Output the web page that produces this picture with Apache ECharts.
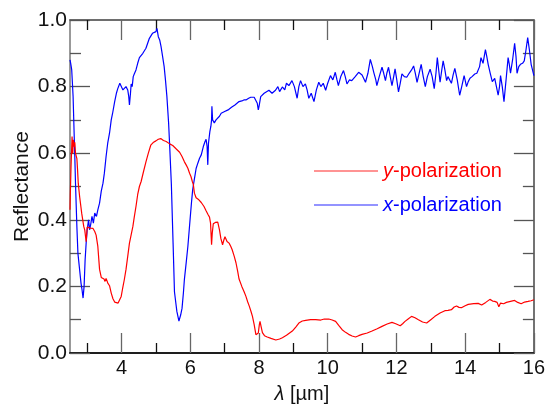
<!DOCTYPE html>
<html><head><meta charset="utf-8">
<script src="https://cdn.jsdelivr.net/npm/echarts@6/dist/echarts.min.js"></script>
<style>html,body{margin:0;padding:0;background:#fff}#c{width:548px;height:409px}</style>
</head><body><div id="c"></div>
<script>
const xMajorTicks = [4, 6, 8, 10, 12, 14, 16];
const xMinorTicks = [3, 5, 7, 9, 11, 13, 15];
const seriesNames = ['y-polarization', 'x-polarization'];
const yPol = [[2.5,0.43],[2.51,0.48],[2.53,0.56],[2.55,0.62],[2.56,0.65],[2.58,0.60],[2.6,0.64],[2.62,0.62],[2.64,0.633],[2.66,0.60],[2.68,0.603],[2.7,0.584],[2.72,0.55],[2.74,0.51],[2.78,0.47],[2.84,0.42],[2.9,0.38],[2.93,0.369],[2.97,0.334],[3.0,0.378],[3.05,0.38],[3.1,0.375],[3.17,0.374],[3.22,0.365],[3.26,0.354],[3.31,0.32],[3.36,0.251],[3.41,0.227],[3.45,0.225],[3.49,0.222],[3.52,0.215],[3.55,0.224],[3.6,0.21],[3.65,0.202],[3.7,0.18],[3.75,0.163],[3.8,0.153],[3.84,0.151],[3.9,0.15],[3.94,0.152],[3.99,0.17],[4.03,0.193],[4.08,0.22],[4.13,0.251],[4.18,0.29],[4.23,0.33],[4.26,0.345],[4.28,0.344],[4.33,0.38],[4.37,0.408],[4.42,0.44],[4.47,0.476],[4.52,0.50],[4.57,0.515],[4.64,0.545],[4.71,0.574],[4.78,0.60],[4.85,0.624],[4.92,0.632],[5.0,0.637],[5.07,0.642],[5.14,0.644],[5.22,0.638],[5.3,0.635],[5.4,0.628],[5.49,0.623],[5.6,0.612],[5.69,0.603],[5.76,0.59],[5.83,0.574],[5.88,0.565],[5.93,0.555],[5.98,0.54],[6.02,0.53],[6.06,0.515],[6.09,0.506],[6.12,0.48],[6.17,0.466],[6.25,0.46],[6.32,0.452],[6.4,0.44],[6.46,0.427],[6.52,0.415],[6.56,0.408],[6.59,0.39],[6.62,0.325],[6.64,0.36],[6.67,0.388],[6.73,0.392],[6.8,0.393],[6.85,0.37],[6.89,0.344],[6.94,0.325],[6.98,0.34],[7.01,0.349],[7.07,0.335],[7.13,0.33],[7.18,0.32],[7.22,0.31],[7.28,0.29],[7.33,0.271],[7.38,0.245],[7.42,0.222],[7.5,0.2],[7.57,0.183],[7.62,0.17],[7.67,0.154],[7.72,0.14],[7.77,0.124],[7.81,0.11],[7.86,0.085],[7.91,0.055],[7.94,0.051],[7.98,0.06],[8.01,0.085],[8.03,0.095],[8.06,0.08],[8.1,0.061],[8.16,0.052],[8.24,0.048],[8.35,0.044],[8.49,0.039],[8.6,0.042],[8.68,0.046],[8.8,0.053],[8.97,0.066],[9.07,0.078],[9.16,0.09],[9.26,0.096],[9.36,0.098],[9.5,0.1],[9.65,0.1],[9.8,0.099],[9.9,0.102],[10.03,0.102],[10.13,0.099],[10.23,0.095],[10.32,0.083],[10.42,0.07],[10.52,0.062],[10.61,0.056],[10.71,0.051],[10.81,0.048],[10.9,0.052],[11.0,0.056],[11.15,0.06],[11.29,0.066],[11.44,0.073],[11.58,0.08],[11.73,0.087],[11.87,0.092],[11.98,0.088],[12.11,0.082],[12.18,0.088],[12.25,0.095],[12.35,0.103],[12.44,0.11],[12.54,0.106],[12.64,0.1],[12.76,0.093],[12.88,0.09],[13.0,0.1],[13.12,0.11],[13.27,0.12],[13.41,0.127],[13.5,0.128],[13.6,0.13],[13.68,0.138],[13.75,0.141],[13.82,0.137],[13.89,0.136],[14.0,0.142],[14.09,0.146],[14.25,0.148],[14.38,0.149],[14.48,0.144],[14.6,0.152],[14.72,0.161],[14.8,0.156],[14.86,0.155],[14.93,0.152],[14.98,0.139],[15.03,0.15],[15.07,0.156],[15.12,0.148],[15.2,0.152],[15.32,0.155],[15.44,0.158],[15.53,0.152],[15.63,0.148],[15.73,0.153],[15.83,0.155],[15.92,0.157],[16.0,0.16]];
const xPol = [[2.5,0.88],[2.52,0.87],[2.55,0.85],[2.59,0.77],[2.62,0.66],[2.64,0.59],[2.66,0.51],[2.7,0.38],[2.73,0.30],[2.76,0.27],[2.78,0.25],[2.82,0.21],[2.85,0.19],[2.88,0.165],[2.91,0.2],[2.94,0.28],[2.97,0.33],[3.0,0.37],[3.04,0.40],[3.07,0.37],[3.1,0.385],[3.14,0.41],[3.18,0.39],[3.22,0.42],[3.27,0.41],[3.31,0.43],[3.36,0.45],[3.41,0.486],[3.46,0.51],[3.5,0.54],[3.55,0.59],[3.6,0.632],[3.65,0.66],[3.7,0.70],[3.74,0.72],[3.8,0.755],[3.85,0.78],[3.89,0.794],[3.95,0.81],[3.99,0.805],[4.04,0.79],[4.08,0.785],[4.13,0.80],[4.18,0.79],[4.21,0.77],[4.23,0.745],[4.26,0.78],[4.28,0.808],[4.31,0.80],[4.34,0.83],[4.37,0.838],[4.42,0.85],[4.47,0.87],[4.52,0.887],[4.57,0.89],[4.62,0.90],[4.66,0.906],[4.71,0.915],[4.76,0.93],[4.81,0.945],[4.86,0.95],[4.9,0.96],[4.95,0.955],[5.0,0.965],[5.03,0.975],[5.07,0.95],[5.11,0.94],[5.15,0.92],[5.2,0.887],[5.24,0.86],[5.28,0.818],[5.32,0.77],[5.37,0.69],[5.4,0.624],[5.45,0.506],[5.5,0.33],[5.54,0.184],[5.58,0.15],[5.61,0.125],[5.67,0.096],[5.72,0.114],[5.76,0.134],[5.8,0.18],[5.83,0.222],[5.88,0.27],[5.93,0.32],[5.97,0.37],[6.0,0.408],[6.04,0.457],[6.07,0.49],[6.1,0.51],[6.14,0.535],[6.17,0.554],[6.22,0.57],[6.27,0.585],[6.32,0.595],[6.38,0.62],[6.43,0.635],[6.46,0.642],[6.49,0.62],[6.51,0.565],[6.53,0.63],[6.57,0.665],[6.6,0.681],[6.62,0.70],[6.63,0.741],[6.65,0.70],[6.7,0.691],[6.75,0.70],[6.8,0.705],[6.85,0.711],[6.9,0.72],[6.95,0.715],[7.0,0.725],[7.04,0.726],[7.1,0.73],[7.15,0.735],[7.2,0.738],[7.23,0.74],[7.3,0.745],[7.36,0.75],[7.42,0.755],[7.5,0.757],[7.56,0.76],[7.62,0.76],[7.7,0.765],[7.76,0.768],[7.81,0.77],[7.86,0.768],[7.91,0.765],[7.95,0.75],[7.98,0.73],[8.0,0.74],[8.05,0.77],[8.1,0.775],[8.15,0.78],[8.2,0.784],[8.29,0.789],[8.38,0.78],[8.48,0.789],[8.55,0.80],[8.6,0.785],[8.68,0.799],[8.75,0.79],[8.8,0.81],[8.87,0.803],[8.96,0.818],[9.03,0.80],[9.11,0.765],[9.16,0.80],[9.21,0.818],[9.28,0.80],[9.35,0.808],[9.4,0.79],[9.45,0.765],[9.52,0.78],[9.6,0.755],[9.67,0.79],[9.74,0.813],[9.8,0.80],[9.87,0.81],[9.94,0.789],[10.0,0.81],[10.08,0.833],[10.15,0.82],[10.22,0.843],[10.27,0.82],[10.31,0.803],[10.38,0.83],[10.46,0.848],[10.51,0.83],[10.56,0.808],[10.63,0.82],[10.7,0.818],[10.8,0.83],[10.9,0.843],[11.0,0.835],[11.1,0.813],[11.17,0.84],[11.24,0.882],[11.3,0.86],[11.34,0.843],[11.4,0.82],[11.43,0.803],[11.5,0.83],[11.58,0.858],[11.63,0.84],[11.68,0.818],[11.72,0.84],[11.77,0.858],[11.82,0.83],[11.87,0.803],[11.92,0.83],[11.96,0.853],[12.01,0.82],[12.06,0.784],[12.11,0.81],[12.16,0.838],[12.23,0.83],[12.3,0.828],[12.37,0.84],[12.44,0.85],[12.5,0.862],[12.55,0.84],[12.6,0.813],[12.66,0.84],[12.72,0.867],[12.78,0.83],[12.84,0.80],[12.9,0.83],[12.98,0.852],[13.04,0.83],[13.1,0.794],[13.15,0.84],[13.19,0.887],[13.23,0.85],[13.27,0.813],[13.32,0.85],[13.36,0.877],[13.41,0.85],[13.46,0.818],[13.5,0.83],[13.55,0.833],[13.6,0.81],[13.65,0.835],[13.7,0.855],[13.77,0.82],[13.84,0.774],[13.9,0.80],[13.97,0.833],[14.04,0.80],[14.09,0.815],[14.14,0.825],[14.2,0.83],[14.28,0.838],[14.34,0.84],[14.38,0.84],[14.42,0.86],[14.46,0.887],[14.52,0.87],[14.59,0.911],[14.63,0.89],[14.67,0.867],[14.73,0.84],[14.79,0.815],[14.86,0.825],[14.91,0.80],[14.96,0.774],[15.0,0.80],[15.03,0.833],[15.08,0.80],[15.13,0.755],[15.19,0.82],[15.25,0.887],[15.28,0.87],[15.32,0.84],[15.38,0.88],[15.44,0.93],[15.48,0.89],[15.51,0.84],[15.56,0.86],[15.61,0.867],[15.67,0.87],[15.72,0.877],[15.77,0.91],[15.82,0.947],[15.87,0.91],[15.92,0.867],[15.96,0.85],[16.0,0.833]];

const FONT = 'Liberation Sans, Arial, sans-serif';
const chart = echarts.init(document.getElementById('c'), null, {renderer: 'canvas'});
function xAx(pos, ticks, len, color, showLabel, name) {
  return {
    type: 'value', position: pos, min: 2.5, max: 16,
    axisLine: {show: true, onZero: false, lineStyle: {color: pos === 'bottom' ? '#111' : '#666', width: 1.5}},
    axisTick: {show: true, inside: true, length: len, customValues: ticks, lineStyle: {color: color, width: 1.3}},
    axisLabel: {show: showLabel, customValues: ticks, color: '#111', fontSize: 20, fontFamily: FONT, margin: 5},
    splitLine: {show: false},
    name: name || '', nameLocation: 'middle', nameGap: 31,
    nameTextStyle: {fontSize: 20, fontFamily: FONT, color: '#111', verticalAlign: 'top',
      rich: {i: {fontStyle: 'italic', fontSize: 20, fontFamily: FONT, color: '#111'}}}
  };
}
function yAx(pos, showLabel, name) {
  return {
    type: 'value', position: pos, min: 0, max: 1, interval: 0.2,
    axisLine: {show: true, lineStyle: {color: pos === 'left' ? '#777' : '#444', width: 1.5}},
    axisTick: {show: true, inside: true, length: 20, lineStyle: {color: '#555', width: 1.3}},
    minorTick: {show: true, splitNumber: 2, length: 11, lineStyle: {color: '#555', width: 1.3}},
    axisLabel: {show: showLabel, color: '#111', fontSize: 21, fontFamily: FONT, margin: 3,
      formatter: v => v.toFixed(1)},
    splitLine: {show: false},
    name: name || '', nameLocation: 'middle', nameGap: 37, nameMoveOverlap: false,
    nameTextStyle: {fontSize: 21, fontFamily: FONT, color: '#111'}
  };
}
const option = {
  backgroundColor: '#fff',
  animation: false,
  grid: {left: 70, right: 12, top: 20, bottom: 48},
  xAxis: [
    xAx('bottom', xMajorTicks, 20, '#666', true, '{i|λ} [µm]'),
    xAx('bottom', xMinorTicks, 10, '#111', false),
    xAx('top', xMajorTicks, 20, '#666', false),
    xAx('top', xMinorTicks, 10, '#111', false)
  ],
  yAxis: [yAx('left', true, 'Reflectance'), yAx('right', false)],
  legend: {
    orient: 'vertical', left: 309, top: 154, icon: 'rect', itemWidth: 64, itemHeight: 1.5, itemGap: 10,
    formatter: n => '{i|' + n.charAt(0) + '}' + n.slice(1),
    textStyle: {fontSize: 20, fontFamily: FONT, lineHeight: 24},
    data: [
      {name: seriesNames[0], itemStyle: {color: '#ff6f6f'},
        textStyle: {color: '#ff0000', rich: {i: {fontStyle: 'italic', fontSize: 20, fontFamily: FONT, color: '#ff0000'}}}},
      {name: seriesNames[1], itemStyle: {color: '#6f6fff'},
        textStyle: {color: '#0000ff', rich: {i: {fontStyle: 'italic', fontSize: 20, fontFamily: FONT, color: '#0000ff'}}}}
    ]
  },
  series: [
    {name: seriesNames[0], type: 'line', data: yPol, showSymbol: false, symbol: 'none', color: '#ff0000',
      lineStyle: {color: '#ff0000', width: 1.2}, xAxisIndex: 0, yAxisIndex: 0, z: 3},
    {name: seriesNames[1], type: 'line', data: xPol, showSymbol: false, symbol: 'none', color: '#0000ff',
      lineStyle: {color: '#0000ff', width: 1.2}, xAxisIndex: 0, yAxisIndex: 0, z: 2}
  ]
};
chart.setOption(option);
</script></body></html>
